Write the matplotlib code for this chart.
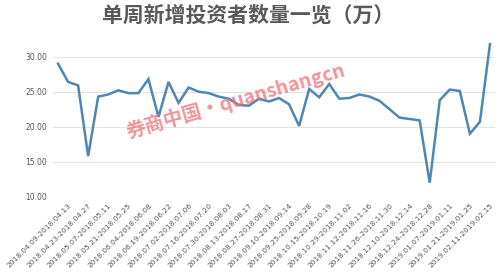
import matplotlib
matplotlib.use('Agg')
import matplotlib.pyplot as plt

plt.rcParams['font.family'] = ['Noto Sans CJK SC', 'DejaVu Sans']

# weekly new investors (10k)
weeks = [
    '2018.04.02-2018.04.04', '2018.04.09-2018.04.13', '2018.04.16-2018.04.20',
    '2018.04.23-2018.04.27', '2018.05.02-2018.05.04', '2018.05.07-2018.05.11',
    '2018.05.14-2018.05.18', '2018.05.21-2018.05.25', '2018.05.28-2018.06.01',
    '2018.06.04-2018.06.08', '2018.06.11-2018.06.15', '2018.06.19-2018.06.22',
    '2018.06.25-2018.06.29', '2018.07.02-2018.07.06', '2018.07.09-2018.07.13',
    '2018.07.16-2018.07.20', '2018.07.23-2018.07.27', '2018.07.30-2018.08.03',
    '2018.08.06-2018.08.10', '2018.08.13-2018.08.17', '2018.08.20-2018.08.24',
    '2018.08.27-2018.08.31', '2018.09.03-2018.09.07', '2018.09.10-2018.09.14',
    '2018.09.17-2018.09.21', '2018.09.25-2018.09.28', '2018.10.08-2018.10.12',
    '2018.10.15-2018.10.19', '2018.10.22-2018.10.26', '2018.10.29-2018.11.02',
    '2018.11.05-2018.11.09', '2018.11.12-2018.11.16', '2018.11.19-2018.11.23',
    '2018.11.26-2018.11.30', '2018.12.03-2018.12.07', '2018.12.10-2018.12.14',
    '2018.12.17-2018.12.21', '2018.12.24-2018.12.28', '2019.01.02-2019.01.04',
    '2019.01.07-2019.01.11', '2019.01.14-2019.01.18', '2019.01.21-2019.01.25',
    '2019.01.28-2019.02.01', '2019.02.11-2019.02.15',
]
new_investors = [
    29.0, 26.4, 25.9, 15.8, 24.3, 24.6, 25.2, 24.8, 24.8, 26.8, 21.4,
    26.4, 23.4, 25.6, 25.0, 24.8, 24.3, 24.0, 23.1, 23.0, 24.0, 23.6,
    24.1, 23.2, 20.1, 25.4, 24.2, 26.1, 24.0, 24.1, 24.6, 24.3, 23.7,
    22.5, 21.3, 21.1, 20.9, 12.0, 23.8, 25.3, 25.1, 19.0, 20.7, 31.8,
]
yticks = [10, 15, 20, 25, 30]

fig = plt.figure(figsize=(5, 2.8), dpi=100)
ax = fig.add_axes([0.106, 0.2975, 0.884, 0.5625])

x = list(range(len(weeks)))
ax.plot(x, new_investors, color='#4f87b2', lw=1.8, solid_joinstyle='miter')

ax.set_xlim(-0.5, len(weeks) - 0.5)
ax.set_ylim(10, 32.5)
ax.set_yticks(yticks)
ax.set_yticklabels(['%.2f' % v for v in yticks], fontsize=5.5, color='#595959',
                   family='DejaVu Sans')
ax.set_xticks(x[1::2])
ax.set_xticklabels(weeks[1::2], rotation=45, ha='right', rotation_mode='anchor',
                   fontsize=5.3, color='#595959', family='DejaVu Sans')
ax.tick_params(length=0, pad=4)
ax.grid(axis='y', color='#e3e3e3', lw=0.8)
ax.set_axisbelow(True)
for s in ax.spines.values():
    s.set_visible(False)

fig.text(0.497, 0.945, '单周新增投资者数量一览（万）', ha='center', va='center',
         fontsize=15, color='#595959', weight='bold')

# watermark
fig.text(0.472, 0.64, '券商中国·quanshangcn', ha='center', va='center',
         rotation=16, fontsize=14, color='#ee6f78', alpha=0.75, weight='bold')

fig.savefig('out.png', dpi=100)
